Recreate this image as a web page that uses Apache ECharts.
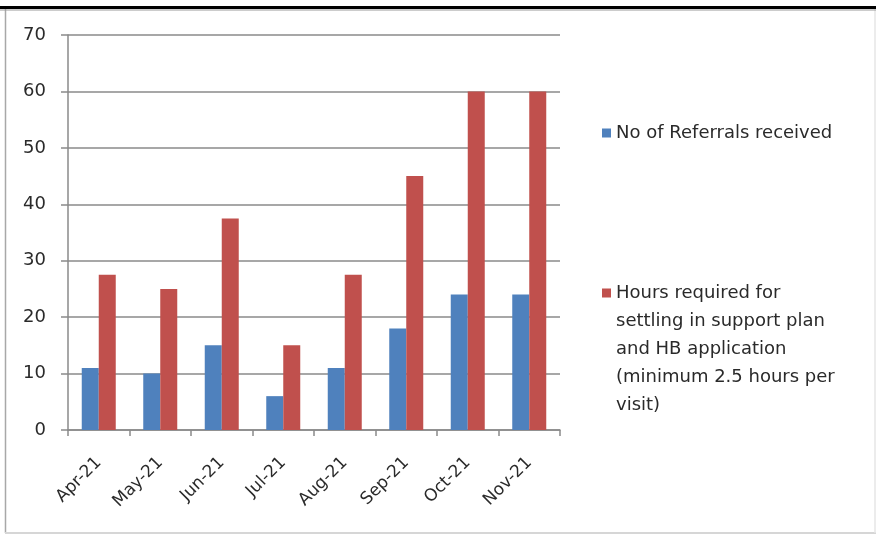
<!DOCTYPE html>
<html>
<head>
<meta charset="utf-8">
<script src="https://cdn.jsdelivr.net/npm/echarts@6/dist/echarts.min.js"></script>
<style>
  html, body { margin: 0; padding: 0; background: #fff; }
  #chart { width: 876px; height: 535px; }
</style>
</head>
<body>
<div id="chart"></div>
<script>
// Monthly referrals and the support hours they require
const months = ['Apr-21', 'May-21', 'Jun-21', 'Jul-21', 'Aug-21', 'Sep-21', 'Oct-21', 'Nov-21'];
const referrals = [11, 10, 15, 6, 11, 18, 24, 24];
const hoursRequired = [27.5, 25, 37.5, 15, 27.5, 45, 60, 60];
const yTicks = { min: 0, max: 70, interval: 10 };

const seriesNames = [
  'No of Referrals received',
  'Hours required for\nsettling in support plan\nand HB application\n(minimum 2.5 hours per\nvisit)'
];

const FONT = '"DejaVu Sans", sans-serif';
const AXIS_GRAY = '#8a8a8a';
const TEXT = '#2a2a2a';

// Legend marker for the multi-line entry: a 9px square at the top of a tall,
// otherwise empty box, so the square sits beside the first line of text.
const LEGEND_LINE_H = 28;
const TALL_ICON_H = 121;
const tallSquareIcon = 'path://M0,0h9v9h-9z M0,' + (TALL_ICON_H - 0.01) + 'h0.01v0.01h-0.01z';

const chart = echarts.init(document.getElementById('chart'), null, { renderer: 'canvas' });

chart.setOption({
  animation: false,
  backgroundColor: '#fff',
  graphic: [
    // outer frame
    { type: 'line', shape: { x1: 5.5, y1: 9, x2: 5.5, y2: 533 },
      style: { stroke: '#a8a8a8', lineWidth: 1.5 } },
    { type: 'line', shape: { x1: 5, y1: 533, x2: 876, y2: 533 },
      style: { stroke: '#d6d6d6', lineWidth: 2 } },
    { type: 'line', shape: { x1: 875, y1: 9, x2: 875, y2: 533 },
      style: { stroke: '#e6e6e6', lineWidth: 1.5 } },
    { type: 'line', shape: { x1: 0, y1: 10, x2: 876, y2: 10 },
      style: { stroke: '#9a9a9a', lineWidth: 1 } },
    { type: 'line', shape: { x1: 0, y1: 7.5, x2: 876, y2: 7.5 },
      style: { stroke: '#000', lineWidth: 3 } }
  ],
  grid: { left: 68, top: 35, right: 316, bottom: 105, containLabel: false },
  legend: [
    {
      data: [seriesNames[0]],
      left: 602, top: 124,
      padding: 0,
      orient: 'vertical',
      icon: 'rect', itemWidth: 9, itemHeight: 9,
      selectedMode: false,
      textStyle: { fontFamily: FONT, fontSize: 18, color: TEXT }
    },
    {
      data: [seriesNames[1]],
      left: 602, top: 279,
      padding: 0,
      orient: 'vertical',
      icon: tallSquareIcon, itemWidth: 9, itemHeight: TALL_ICON_H,
      selectedMode: false,
      textStyle: { fontFamily: FONT, fontSize: 18, color: TEXT, lineHeight: LEGEND_LINE_H }
    }
  ],
  xAxis: {
    type: 'category',
    data: months,
    boundaryGap: true,
    axisLine: { lineStyle: { color: AXIS_GRAY, width: 1.5 } },
    axisTick: { show: true, length: 6, alignWithLabel: false, lineStyle: { color: AXIS_GRAY, width: 1.5 } },
    axisLabel: { rotate: 45, fontFamily: FONT, fontSize: 17, color: TEXT, margin: 30 }
  },
  yAxis: {
    type: 'value',
    min: yTicks.min, max: yTicks.max, interval: yTicks.interval,
    axisLine: { show: true, lineStyle: { color: AXIS_GRAY, width: 1.5 } },
    axisTick: { show: true, inside: false, length: 7, lineStyle: { color: AXIS_GRAY, width: 1.5 } },
    splitLine: { show: true, lineStyle: { color: AXIS_GRAY, width: 1.5 } },
    axisLabel: { fontFamily: FONT, fontSize: 18, color: TEXT, margin: 22 }
  },
  series: [
    {
      name: seriesNames[0], type: 'bar', data: referrals,
      barWidth: 17, barGap: '0%',
      itemStyle: { color: '#4f81bd' }
    },
    {
      name: seriesNames[1], type: 'bar', data: hoursRequired,
      barWidth: 17, barGap: '0%',
      itemStyle: { color: '#c0504d' }
    }
  ]
});
</script>
</body>
</html>
